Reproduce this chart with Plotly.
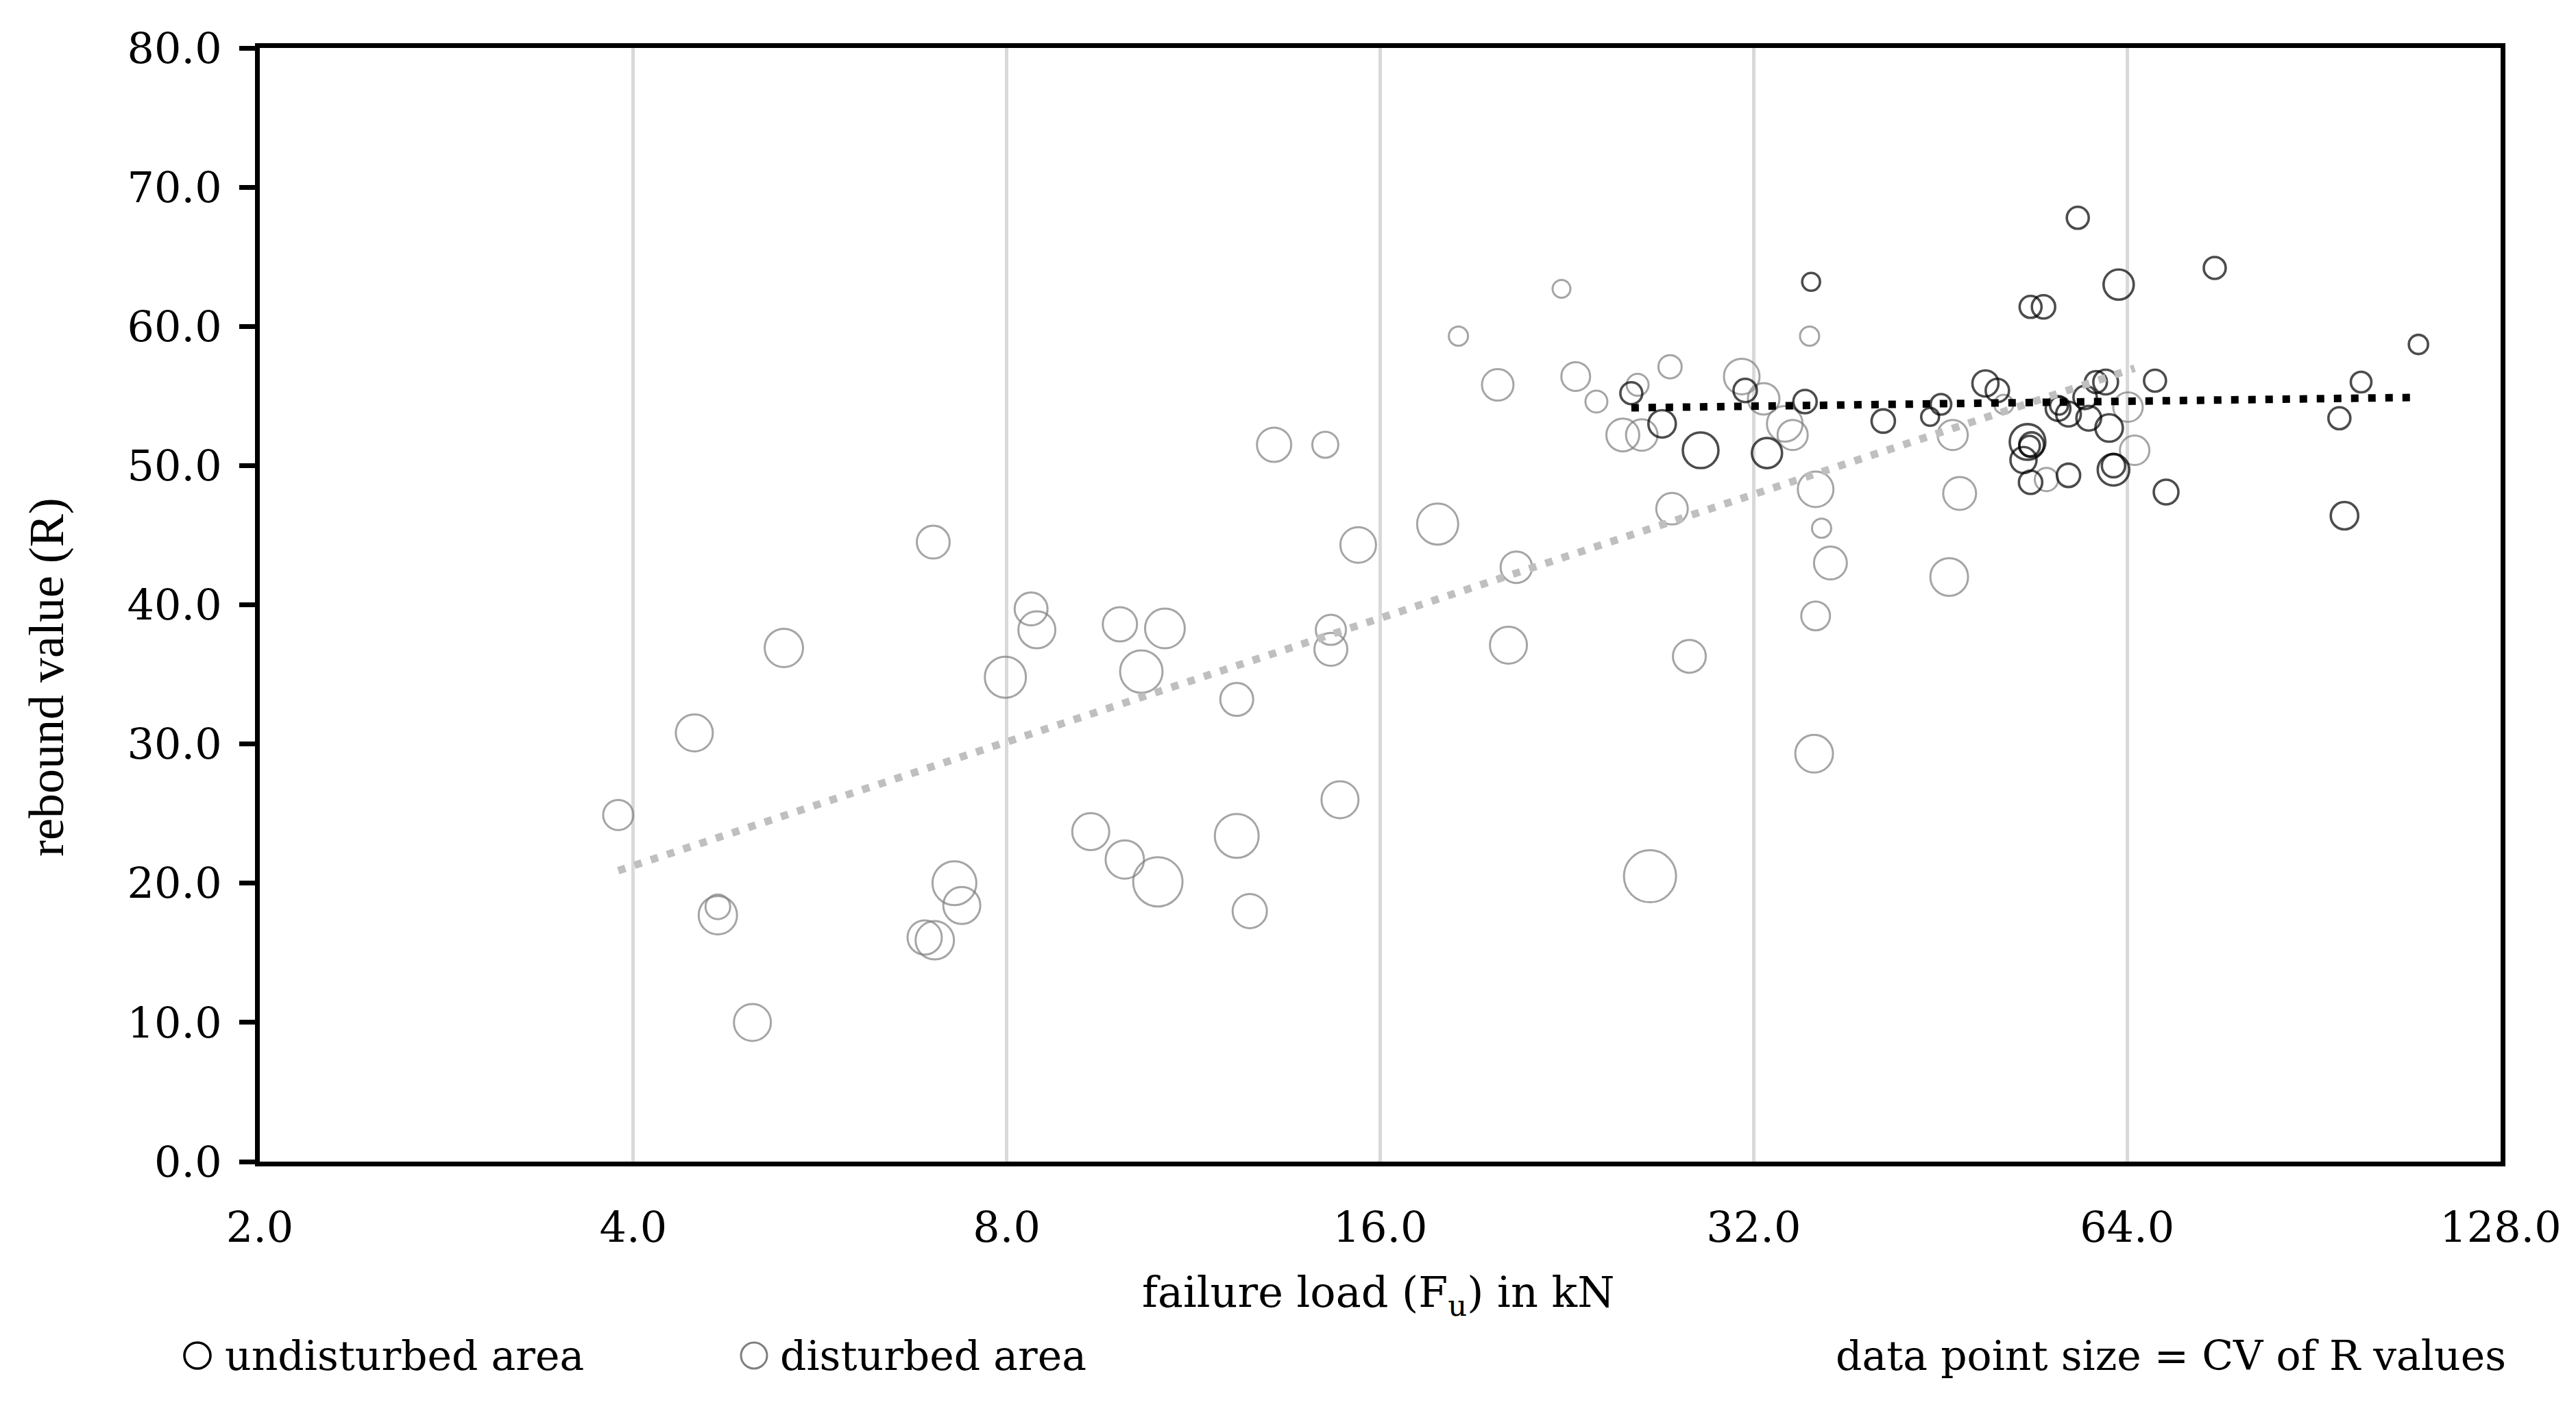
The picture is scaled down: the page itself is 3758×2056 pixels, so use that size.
import math
import plotly.graph_objects


##########
# Inputs #
##########

# disturbed area: failure load (kN), rebound value (R), CV of R values (%)
DISTURBED_FU = [
    3.89, 4.48, 4.68, 4.68, 4.99, 5.29, 6.98, 6.87, 7.00, 7.26,
    7.36, 7.98, 8.37, 8.46, 9.35, 9.87, 9.96, 10.27, 10.59, 10.73,
    12.26, 12.26, 12.56, 13.14, 14.45, 14.6, 14.6, 14.85, 15.36, 17.8,
    18.5, 19.9, 20.3, 20.6, 22.4, 23.0, 23.9, 25.1, 25.8, 26.0,
    26.4, 27.4, 27.5, 28.4, 31.3, 32.6, 33.9, 34.4, 35.5, 35.9,
    35.9, 35.8, 36.3, 36.9, 46.3, 46.9, 46.0, 50.9, 55.1, 64.1,
    64.9,
]
DISTURBED_R = [
    24.9, 30.8, 17.7, 18.3, 10.0, 36.9, 44.5, 16.1, 15.9, 20.0,
    18.4, 34.8, 39.7, 38.2, 23.7, 38.6, 21.7, 35.2, 20.1, 38.3,
    23.4, 33.2, 18.0, 51.5, 51.5, 38.2, 36.8, 26.0, 44.3, 45.8,
    59.3, 55.8, 37.1, 42.7, 62.7, 56.4, 54.6, 52.2, 55.8, 52.2,
    20.5, 57.1, 46.9, 36.3, 56.4, 54.8, 53.0, 52.2, 59.3, 48.3,
    39.2, 29.3, 45.5, 43.0, 52.2, 48.0, 42.0, 54.4, 49.0, 54.2,
    51.1,
]
DISTURBED_CV = [
    8.8, 10.8, 11.2, 7.2, 10.8, 11.2, 9.6, 10.0, 11.2, 12.8,
    10.8, 12.0, 9.6, 10.8, 10.8, 10.0, 11.2, 12.4, 14.4, 11.6,
    12.8, 9.6, 10.0, 10.0, 7.6, 8.8, 9.6, 10.8, 10.4, 12.0,
    5.6, 9.2, 10.8, 9.2, 5.2, 8.4, 6.4, 9.6, 6.4, 9.2,
    15.2, 6.8, 9.2, 9.6, 10.4, 9.2, 10.4, 8.8, 5.6, 10.4,
    8.4, 11.0, 5.6, 9.6, 8.8, 9.6, 11.0, 5.6, 6.8, 8.6,
    8.6,
]

# undisturbed area
UNDISTURBED_FU = [
    25.5, 27.0, 29.0, 31.5, 32.8, 35.2, 35.6, 40.7, 44.4, 45.3,
    49.2, 50.3, 53.5, 54.8, 58.4, 63.0, 75.3, 109.9, 67.4, 98.8,
    94.9, 95.8, 68.8, 53.2, 53.6, 53.4, 52.8, 53.5, 57.4, 56.3,
    56.4, 57.4, 59.6, 61.9, 59.2, 60.4, 61.5, 62.4, 62.4,
]
UNDISTURBED_R = [
    55.2, 53.0, 51.1, 55.4, 50.9, 54.6, 63.2, 53.2, 53.5, 54.4,
    55.9, 55.4, 61.4, 61.4, 67.8, 63.0, 64.2, 58.7, 56.1, 56.0,
    53.4, 46.4, 48.1, 51.7, 51.5, 51.4, 50.4, 48.8, 49.3, 54.1,
    54.3, 53.7, 53.4, 52.7, 54.9, 56.0, 56.0, 50.0, 49.7,
]
UNDISTURBED_CV = [
    6.4, 8.0, 10.4, 6.8, 8.8, 6.8, 5.2, 6.8, 5.2, 6.0,
    7.6, 6.8, 6.4, 6.8, 6.4, 8.8, 6.4, 5.6, 6.4, 6.0,
    6.4, 8.0, 7.2, 10.4, 7.2, 6.0, 7.6, 6.8, 6.8, 7.2,
    5.2, 7.2, 7.2, 8.0, 6.8, 6.4, 7.2, 6.8, 9.2,
]

# logarithmic trend lines (end points)
TREND_DISTURBED_FU = [3.89, 64.9]
TREND_DISTURBED_R = [20.9, 57.0]
TREND_UNDISTURBED_FU = [25.5, 109.9]
TREND_UNDISTURBED_R = [54.15, 54.9]

X_TICKS = [2, 4, 8, 16, 32, 64, 128]
X_TICK_LABELS = ["2.0", "4.0", "8.0", "16.0", "32.0", "64.0", "128.0"]
Y_TICKS = [0, 10, 20, 30, 40, 50, 60, 70, 80]


#####################
# Layout parameters #
#####################

WIDTH, HEIGHT = 3758, 2056
PLOT_LEFT, PLOT_RIGHT, PLOT_TOP, PLOT_BOTTOM = 371, 3640, 62, 1687
FONT = "DejaVu Serif"
GREY = "#7f7f7f"
TREND_GREY = "#bfbfbf"


def paper_x(px):
    return (px - PLOT_LEFT) / (PLOT_RIGHT - PLOT_LEFT)


def paper_y(py):
    return (PLOT_BOTTOM - py) / (PLOT_BOTTOM - PLOT_TOP)


#############
# Plot data #
#############

figure = plotly.graph_objects.Figure()

# Bubbles: size = CV of R values
figure.add_trace(plotly.graph_objects.Scatter(
    x=DISTURBED_FU,
    y=DISTURBED_R,
    mode="markers",
    name="disturbed area",
    marker=dict(
        symbol="circle-open",
        size=DISTURBED_CV,
        sizemode="diameter",
        sizeref=0.2,
        color=GREY,
        line=dict(width=3, color=GREY),
    ),
))
figure.add_trace(plotly.graph_objects.Scatter(
    x=UNDISTURBED_FU,
    y=UNDISTURBED_R,
    mode="markers",
    name="undisturbed area",
    marker=dict(
        symbol="circle-open",
        size=UNDISTURBED_CV,
        sizemode="diameter",
        sizeref=0.2,
        color="black",
        line=dict(width=3.6, color="black"),
    ),
))

# Trend lines (straight on the log axis)
figure.add_trace(plotly.graph_objects.Scatter(
    x=TREND_DISTURBED_FU,
    y=TREND_DISTURBED_R,
    mode="lines",
    name="trend disturbed",
    line=dict(color=TREND_GREY, width=11, dash="11px,14px"),
    hoverinfo="skip",
))
figure.add_trace(plotly.graph_objects.Scatter(
    x=TREND_UNDISTURBED_FU,
    y=TREND_UNDISTURBED_R,
    mode="lines",
    name="trend undisturbed",
    line=dict(color="black", width=11, dash="11px,14px"),
    hoverinfo="skip",
))

# Legend (drawn by hand below the axis)
LEGEND_Y = 1970
legend_items = [
    (280, 318, "black", 3.6, "undisturbed area"),
    (1092, 1128, GREY, 3, "disturbed area"),
]
shapes = []
annotations = []
for circle_x, text_x, colour, stroke, label in legend_items:
    shapes.append(dict(
        type="circle",
        xref="paper", yref="paper",
        xsizemode="pixel", ysizemode="pixel",
        xanchor=paper_x(circle_x), yanchor=paper_y(LEGEND_Y),
        x0=-19, x1=19, y0=-19, y1=19,
        line=dict(color=colour, width=stroke),
    ))
    annotations.append(dict(
        text=label,
        xref="paper", yref="paper",
        x=paper_x(text_x), y=paper_y(LEGEND_Y),
        xanchor="left", yanchor="middle",
        showarrow=False,
        font=dict(family=FONT, size=60, color="black"),
    ))
annotations.append(dict(
    text="data point size = CV of R values",
    xref="paper", yref="paper",
    x=paper_x(3650), y=paper_y(LEGEND_Y),
    xanchor="right", yanchor="middle",
    showarrow=False,
    font=dict(family=FONT, size=60, color="black"),
))

# Axis titles
annotations.append(dict(
    text="failure load (F<sub>u</sub>) in kN",
    xref="paper", yref="paper",
    x=paper_x(2002), y=paper_y(1881),
    xanchor="center", yanchor="middle",
    showarrow=False,
    font=dict(family=FONT, size=62, color="black"),
))
annotations.append(dict(
    text="rebound value (R)",
    xref="paper", yref="paper",
    x=paper_x(60), y=paper_y(980),
    xanchor="center", yanchor="middle",
    textangle=-90,
    showarrow=False,
    font=dict(family="Liberation Serif", size=72, color="black"),
))

figure.update_layout(
    width=WIDTH,
    height=HEIGHT,
    autosize=False,
    margin=dict(l=PLOT_LEFT, r=WIDTH - PLOT_RIGHT, t=PLOT_TOP, b=HEIGHT - PLOT_BOTTOM, pad=0),
    paper_bgcolor="white",
    plot_bgcolor="white",
    showlegend=False,
    font=dict(family=FONT, size=62, color="black"),
    shapes=shapes,
    annotations=annotations,
    xaxis=dict(
        type="log",
        range=[math.log10(2), math.log10(128)],
        tickmode="array",
        tickvals=X_TICKS,
        ticktext=X_TICK_LABELS,
        ticks="",
        ticklabelstandoff=36,
        showgrid=True,
        gridcolor="#d9d9d9",
        gridwidth=5,
        showline=True,
        linecolor="black",
        linewidth=7,
        mirror=True,
        zeroline=False,
        tickfont=dict(family=FONT, size=62, color="black"),
    ),
    yaxis=dict(
        range=[0, 80],
        tickmode="array",
        tickvals=Y_TICKS,
        tickformat=".1f",
        ticks="outside",
        ticklen=23,
        tickwidth=7,
        tickcolor="black",
        ticklabelstandoff=13,
        showgrid=False,
        showline=True,
        linecolor="black",
        linewidth=7,
        mirror=True,
        zeroline=False,
        tickfont=dict(family=FONT, size=62, color="black"),
    ),
)

figure.write_html("out.html")
